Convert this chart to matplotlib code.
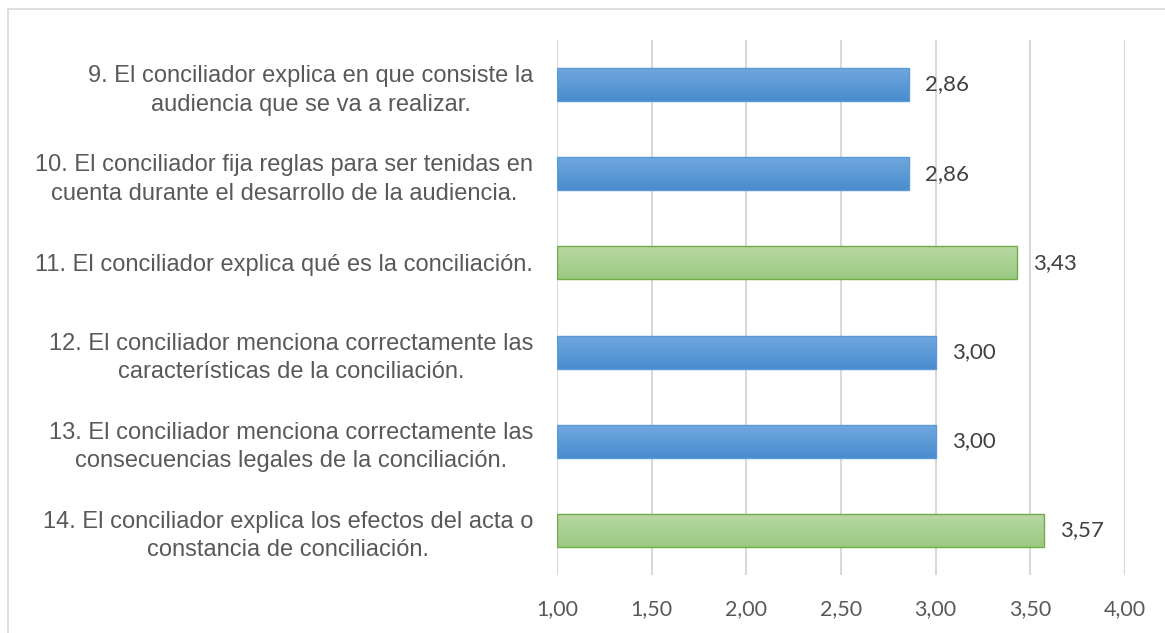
import numpy as np
import matplotlib.pyplot as plt
from matplotlib.patches import Rectangle
from matplotlib.colors import LinearSegmentedColormap

# Data
labels = [
    "9. El conciliador explica en que consiste la\naudiencia que se va a realizar.",
    "10. El conciliador fija reglas para ser tenidas en\ncuenta durante el desarrollo de la audiencia.",
    "11. El conciliador explica qué es la conciliación.",
    "12. El conciliador menciona correctamente las\ncaracterísticas de la conciliación.",
    "13. El conciliador menciona correctamente las\nconsecuencias legales de la conciliación.",
    "14. El conciliador explica los efectos del acta o\nconstancia de conciliación.",
]
values = [2.86, 2.86, 3.43, 3.00, 3.00, 3.57]
highlight = [False, False, True, False, False, True]
xticks = [1.0, 1.5, 2.0, 2.5, 3.0, 3.5, 4.0]

blue_grad = LinearSegmentedColormap.from_list("b", ["#70a8de", "#4a8ccf"])
green_grad = LinearSegmentedColormap.from_list("g", ["#b8d8a4", "#9bca82"])

fig = plt.figure(figsize=(11.65, 6.33), dpi=100)
ax = fig.add_axes([0.478, 0.0916, 0.4876, 0.8452])

# figure border
fig.patches.append(Rectangle((8 / 1165, -0.01), 1.2, 1 - 9 / 633 + 0.01,
                             transform=fig.transFigure, fill=False,
                             edgecolor="#d9d9d9", linewidth=1.2))

y = np.arange(len(values))
bars = ax.barh(y, [v - 1.0 for v in values], left=1.0, height=0.37,
               color="none", zorder=3)

grad = np.linspace(0, 1, 50).reshape(-1, 1)
for bar, hl, v in zip(bars, highlight, values):
    x0, y0 = bar.get_x(), bar.get_y()
    w, h = bar.get_width(), bar.get_height()
    cmap = green_grad if hl else blue_grad
    edge = "#70ad47" if hl else "#5b9bd5"
    ax.imshow(grad, cmap=cmap, aspect="auto", extent=(x0, x0 + w, y0, y0 + h),
              origin="lower", zorder=3)
    ax.add_patch(Rectangle((x0, y0), w, h, fill=False, edgecolor=edge,
                           linewidth=1.0, zorder=4))
    ax.text(v + 0.085, y0 + h / 2, f"{v:.2f}".replace(".", ","),
            va="center", ha="left", fontsize=16, family="Lato",
            color="#404040")

ax.set_xlim(1.0, 4.0)
ax.set_ylim(len(values) - 0.5, -0.5)
ax.set_xticks(xticks)
ax.set_xticklabels([f"{t:.2f}".replace(".", ",") for t in xticks],
                   family="Lato", fontsize=15.5, color="#595959")
ax.set_yticks(y)
ax.set_yticklabels(labels, family="Liberation Sans", fontsize=17,
                   color="#595959", multialignment="center",
                   linespacing=1.38)
ax.tick_params(axis="y", length=0, pad=17)
ax.tick_params(axis="x", length=0, pad=17)
ax.grid(axis="x", color="#d9d9d9", linewidth=1.5, zorder=0)
for s in ax.spines.values():
    s.set_visible(False)

fig.savefig("out.png", dpi=100)
